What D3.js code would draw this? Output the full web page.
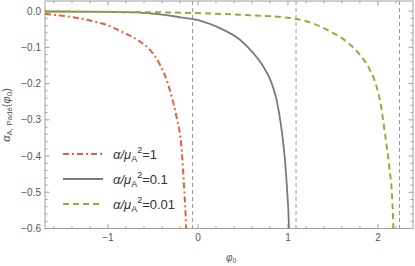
<!DOCTYPE html>
<html>
<head>
<script src="https://cdn.jsdelivr.net/npm/d3@7"></script>
<style>
body { margin: 0; background: #fff; }
text { font-family: "Liberation Sans", Arial, sans-serif; }
</style>
</head>
<body>
<script>
// curves: [phi0, alpha]
var red = [[-1.7,-0.008],[-1.533,-0.012],[-1.2,-0.026],[-1.014,-0.038],[-0.83,-0.059],
  [-0.644,-0.084],[-0.533,-0.107],[-0.422,-0.148],[-0.348,-0.19],[-0.292,-0.236],
  [-0.24,-0.29],[-0.181,-0.383],[-0.152,-0.494],[-0.133,-0.59],[-0.128,-0.63]];
var gray = [[-1.7,-0.001],[-1.0,-0.002],[-0.644,-0.004],[-0.5,-0.007],[-0.2,-0.017],
  [0.022,-0.026],[0.244,-0.047],[0.467,-0.079],[0.615,-0.116],[0.726,-0.153],
  [0.819,-0.199],[0.874,-0.245],[0.93,-0.328],[0.967,-0.411],[0.993,-0.503],
  [1.011,-0.598],[1.013,-0.63]];
var green = [[-1.7,-0.001],[-0.5,-0.003],[0.467,-0.01],[1.02,-0.019],[1.244,-0.031],
  [1.467,-0.056],[1.652,-0.084],[1.8,-0.121],[1.911,-0.162],[1.985,-0.208],
  [2.022,-0.245],[2.078,-0.337],[2.126,-0.429],[2.159,-0.521],[2.17,-0.59],[2.173,-0.63]];
var asymptotes = [-0.06, 1.09, 2.24];
var xTicks = [-1, 0, 1, 2];
var yTicks = [0, -0.1, -0.2, -0.3, -0.4, -0.5, -0.6];
var labels = ["1", "0.1", "0.01"];

var width = 415, height = 266;
var x = d3.scaleLinear().domain([-1.7, 2.39]).range([45, 413]);
var y = d3.scaleLinear().domain([-0.6, 0.028]).range([228.5, 1]);

var svg = d3.select('body').append('svg')
    .attr('width', width).attr('height', height);

svg.append('clipPath').attr('id', 'clip')
  .append('rect').attr('x', 45).attr('y', 1).attr('width', 368).attr('height', 227.5);

var frame = '#a0a0a0';
var tickText = '#555';

// minor ticks
var xMinor = d3.range(-1.6, 2.39, 0.2).filter(function(v) { return Math.abs(v - Math.round(v)) > 1e-6; });
var yMinor = d3.range(0, -0.61, -0.02).filter(function(v) { return Math.abs(v*10 - Math.round(v*10)) > 1e-6; });

var g = svg.append('g').attr('stroke', frame).attr('stroke-width', 1);
xTicks.forEach(function(v) {
  g.append('line').attr('x1', x(v)).attr('x2', x(v)).attr('y1', 228.5).attr('y2', 224);
  g.append('line').attr('x1', x(v)).attr('x2', x(v)).attr('y1', 1).attr('y2', 5.5);
});
xMinor.forEach(function(v) {
  g.append('line').attr('x1', x(v)).attr('x2', x(v)).attr('y1', 228.5).attr('y2', 226);
  g.append('line').attr('x1', x(v)).attr('x2', x(v)).attr('y1', 1).attr('y2', 3.5);
});
yTicks.forEach(function(v) {
  g.append('line').attr('x1', 45).attr('x2', 49.5).attr('y1', y(v)).attr('y2', y(v));
  g.append('line').attr('x1', 413).attr('x2', 408.5).attr('y1', y(v)).attr('y2', y(v));
});
yMinor.forEach(function(v) {
  g.append('line').attr('x1', 45).attr('x2', 47.5).attr('y1', y(v)).attr('y2', y(v));
  g.append('line').attr('x1', 413).attr('x2', 410.5).attr('y1', y(v)).attr('y2', y(v));
});
svg.append('rect').attr('x', 45).attr('y', 1).attr('width', 368).attr('height', 227.5)
  .attr('fill', 'none').attr('stroke', frame).attr('stroke-width', 1);

// tick labels
svg.selectAll('.xl').data(xTicks).enter().append('text')
  .attr('x', function(d) { return x(d); }).attr('y', 241)
  .attr('text-anchor', 'middle').attr('font-size', 10).attr('fill', tickText)
  .text(function(d) { return d < 0 ? '\u2212' + (-d) : d; });
svg.selectAll('.yl').data(yTicks).enter().append('text')
  .attr('x', 41).attr('y', function(d) { return y(d) + 3.5; })
  .attr('text-anchor', 'end').attr('font-size', 10).attr('fill', tickText)
  .text(function(d) { return d < 0 ? '\u2212' + (-d).toFixed(1) : '0.0'; });

// asymptotes
svg.selectAll('.asym').data(asymptotes).enter().append('line')
  .attr('x1', function(d) { return x(d); }).attr('x2', function(d) { return x(d); })
  .attr('y1', 1).attr('y2', 228.5)
  .attr('stroke', '#999').attr('stroke-width', 1).attr('stroke-dasharray', '4,3');

var line = d3.line().x(function(d) { return x(d[0]); }).y(function(d) { return y(d[1]); })
  .curve(d3.curveMonotoneX);

var series = [
  { data: red, color: '#ea6034', dash: '6,3,2,3', w: 2 },
  { data: gray, color: '#7b7b7b', dash: null, w: 1.8 },
  { data: green, color: '#8db22e', dash: '6,4', w: 2 }
];
var plot = svg.append('g').attr('clip-path', 'url(#clip)');
series.forEach(function(s) {
  plot.append('path').attr('d', line(s.data)).attr('fill', 'none')
    .attr('stroke', s.color).attr('stroke-width', s.w)
    .attr('stroke-dasharray', s.dash);
});

// legend
series.forEach(function(s, i) {
  var ly = 154 + i * 25;
  svg.append('line').attr('x1', 63).attr('x2', 103).attr('y1', ly).attr('y2', ly)
    .attr('stroke', s.color).attr('stroke-width', s.w).attr('stroke-dasharray', s.dash);
  var t = svg.append('text').attr('x', 113).attr('y', ly + 5).attr('font-size', 13).attr('fill', '#333');
  t.append('tspan').attr('font-style', 'italic').text('\u03b1/\u03bc');
  t.append('tspan').attr('font-size', 9).attr('dy', 3).text('A');
  t.append('tspan').attr('font-size', 9).attr('dy', -9).text('2');
  t.append('tspan').attr('dy', 6).text('=' + labels[i]);
});

// axis labels
var xl = svg.append('text').attr('x', 226).attr('y', 261).attr('font-size', 10).attr('fill', tickText);
xl.append('tspan').attr('font-style', 'italic').text('\u03c6');
xl.append('tspan').attr('font-size', 7).attr('dy', 2).text('0');

var yl = svg.append('text').attr('transform', 'translate(10,115) rotate(-90)')
  .attr('text-anchor', 'middle').attr('font-size', 11).attr('fill', tickText);
yl.append('tspan').attr('font-style', 'italic').text('\u03b1');
yl.append('tspan').attr('font-size', 8).attr('dy', 2).text('A, Pad\u00e9');
yl.append('tspan').attr('dy', -2).text('(');
yl.append('tspan').attr('font-style', 'italic').text('\u03c6');
yl.append('tspan').attr('font-size', 8).attr('dy', 2).text('0');
yl.append('tspan').attr('dy', -2).text(')');
</script>
</body>
</html>
